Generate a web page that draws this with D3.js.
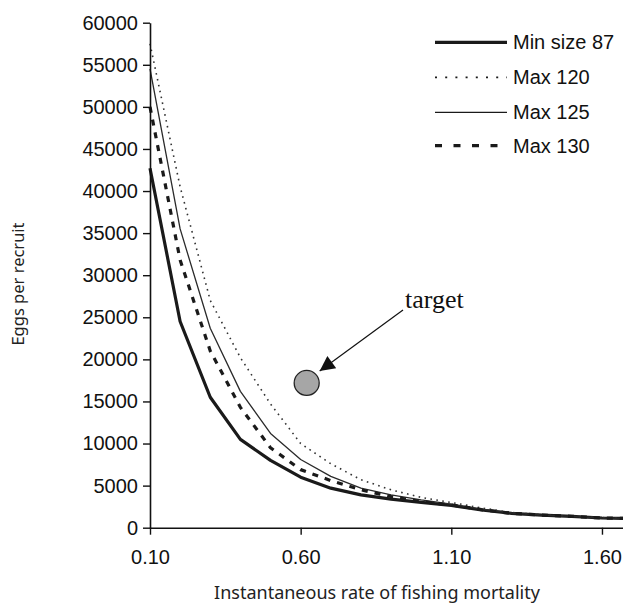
<!DOCTYPE html>
<html>
<head>
<meta charset="utf-8">
<script src="https://cdn.jsdelivr.net/npm/d3@7"></script>
<style>
  html, body { margin: 0; padding: 0; background: #fff; }
  svg { display: block; }
</style>
</head>
<body>
<svg id="chart" width="623" height="603"></svg>
<script>
// Instantaneous fishing mortality (F) values
const fishingMortality = [0.1, 0.2, 0.3, 0.4, 0.5, 0.6, 0.7, 0.8, 0.9, 1.0, 1.1, 1.2, 1.3, 1.4, 1.5, 1.6, 1.7];

// Eggs per recruit under each size-limit scenario
const minSize87 = [42700, 24500, 15500, 10500, 8000, 6000, 4700, 3900, 3400, 3000, 2650, 2100, 1700, 1500, 1350, 1150, 1100];
const max120    = [57500, 40500, 27000, 20200, 14700, 10000, 7600, 5700, 4500, 3600, 3000, 2350, 1800, 1550, 1350, 1200, 1100];
const max125    = [54500, 35500, 23700, 16200, 11200, 8100, 6100, 4700, 3900, 3300, 2800, 2200, 1750, 1500, 1350, 1150, 1100];
const max130    = [50000, 31800, 21000, 14300, 9500, 6900, 5600, 4500, 3700, 3100, 2700, 2150, 1700, 1500, 1350, 1150, 1100];

const seriesNames = ["Min size 87", "Max 120", "Max 125", "Max 130"];

// Reference point
const targetF = 0.62;
const targetEggs = 17200;
const targetLabel = "target";

const xTicks = [0.1, 0.6, 1.1, 1.6];
const yTicks = [0, 5000, 10000, 15000, 20000, 25000, 30000, 35000, 40000, 45000, 50000, 55000, 60000];

const xTitle = "Instantaneous rate of fishing mortality";
const yTitle = "Eggs per recruit";

const svg = d3.select("#chart");

const x = d3.scaleLinear().domain([0.1, 1.7]).range([150, 632.1]);
const y = d3.scaleLinear().domain([0, 60000]).range([527.7, 22.7]);

const styles = [
  { width: 3.2, dash: null, color: "#1a1a1a" },
  { width: 1.6, dash: "1.6,4.4", color: "#333" },
  { width: 1.3, dash: null, color: "#2a2a2a" },
  { width: 3.2, dash: "6,7", color: "#1a1a1a" }
];

const seriesValues = [minSize87, max120, max125, max130];

const line = d3.line()
  .x(d => x(d[0]))
  .y(d => y(d[1]));

// Curves
seriesValues.forEach((vals, i) => {
  const pts = fishingMortality.map((f, j) => [f, vals[j]]);
  svg.append("path")
    .datum(pts)
    .attr("fill", "none")
    .attr("stroke", styles[i].color)
    .attr("stroke-width", styles[i].width)
    .attr("stroke-dasharray", styles[i].dash)
    .attr("stroke-linejoin", "round")
    .attr("d", line);
});

// Axes
const yAxis = d3.axisLeft(y)
  .tickValues(yTicks)
  .tickFormat(d3.format("d"))
  .tickSize(7)
  .tickSizeOuter(0)
  .tickPadding(5);

const gy = svg.append("g")
  .attr("transform", "translate(150,0)")
  .call(yAxis);

const xAxis = d3.axisBottom(x)
  .tickValues(xTicks)
  .tickFormat(d3.format(".2f"))
  .tickSize(7)
  .tickSizeOuter(0)
  .tickPadding(15);

const gx = svg.append("g")
  .attr("transform", "translate(0,527.7)")
  .call(xAxis);

[gx, gy].forEach(g => {
  g.select(".domain").attr("stroke", "#111").attr("stroke-width", 1.6);
  g.selectAll(".tick line").attr("stroke", "#111").attr("stroke-width", 1.4);
  g.selectAll(".tick text")
    .attr("fill", "#111")
    .style("font-family", "'Liberation Sans', Arial, sans-serif")
    .style("font-size", "20px");
});

// Axis titles
svg.append("text")
  .attr("x", 377)
  .attr("y", 599)
  .attr("text-anchor", "middle")
  .style("font-family", "'Noto Sans', 'Open Sans', sans-serif")
  .style("font-size", "18px")
  .attr("fill", "#222")
  .text(xTitle);

svg.append("text")
  .attr("transform", "translate(24,284) rotate(-90)")
  .attr("text-anchor", "middle")
  .style("font-family", "'Noto Sans', 'Open Sans', sans-serif")
  .style("font-size", "16.5px")
  .attr("fill", "#222")
  .text(yTitle);

// Legend
const legendY = [42.3, 77.3, 112.3, 145.7];
const legendStyles = [
  { width: 3.2, dash: null },
  { width: 1.8, dash: "2,8.2" },
  { width: 1.3, dash: null },
  { width: 3.2, dash: "7,11.5" }
];
seriesNames.forEach((name, i) => {
  svg.append("line")
    .attr("x1", 435).attr("x2", 507)
    .attr("y1", legendY[i]).attr("y2", legendY[i])
    .attr("stroke", "#1a1a1a")
    .attr("stroke-width", legendStyles[i].width)
    .attr("stroke-dasharray", legendStyles[i].dash);
  svg.append("text")
    .attr("x", 513)
    .attr("y", legendY[i])
    .attr("dy", "0.35em")
    .style("font-family", "'Liberation Sans', Arial, sans-serif")
    .style("font-size", "20px")
    .attr("fill", "#111")
    .text(name);
});

// Target marker with pointing arrow
svg.append("defs").append("marker")
  .attr("id", "arrowhead")
  .attr("viewBox", "0 0 10 10")
  .attr("refX", 10).attr("refY", 5)
  .attr("markerWidth", 19).attr("markerHeight", 15)
  .attr("markerUnits", "userSpaceOnUse")
  .attr("orient", "auto")
  .append("path")
  .attr("d", "M0,0 L10,5 L0,10 Z")
  .attr("fill", "#111");

svg.append("line")
  .attr("x1", 403).attr("y1", 310)
  .attr("x2", x(targetF) + 13).attr("y2", y(targetEggs) - 12)
  .attr("stroke", "#111")
  .attr("stroke-width", 1.2)
  .attr("marker-end", "url(#arrowhead)");

svg.append("circle")
  .attr("cx", x(targetF))
  .attr("cy", y(targetEggs))
  .attr("r", 12.5)
  .attr("fill", "#a6a6a6")
  .attr("stroke", "#222")
  .attr("stroke-width", 1.3);

svg.append("text")
  .attr("x", 405)
  .attr("y", 308)
  .style("font-family", "'Liberation Serif', 'Times New Roman', serif")
  .style("font-size", "26px")
  .attr("fill", "#111")
  .text(targetLabel);
</script>
</body>
</html>
